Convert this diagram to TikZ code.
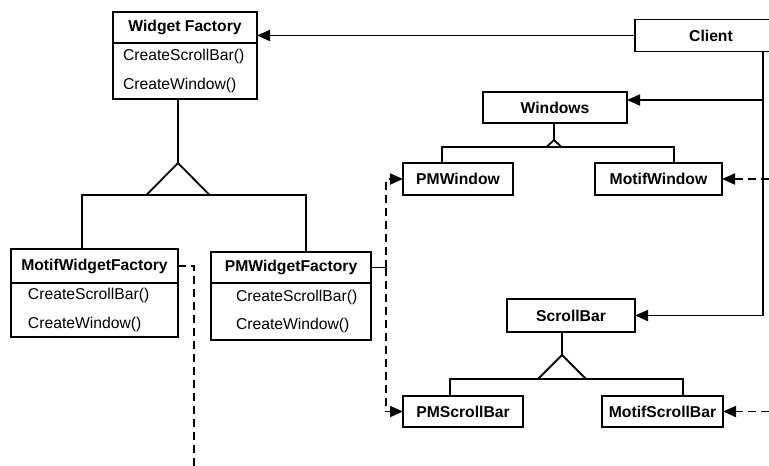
\documentclass[tikz,border=0pt]{standalone}
\usepackage{fontspec}
\setmainfont{Liberation Sans}
\usetikzlibrary{arrows.meta,positioning}

\begin{document}
\begin{tikzpicture}[x=1pt, y=-1pt, line width=1.8pt, >={Triangle[length=13pt,width=11pt]},
    hdr/.style={draw, inner sep=0pt, outer sep=0pt, font=\fontsize{15.7}{19}\selectfont\bfseries},
    ops/.style={draw, anchor=north, align=left, inner xsep=0pt, inner ysep=0pt, outer sep=0pt, font=\fontsize{15.7}{28.5}\selectfont},
    depend/.style={dash pattern=on 8pt off 5pt}]
    	\useasboundingbox (0,0) rectangle (769,466);
    	\clip (0,0) rectangle (769,466);

    	% factories
    	\node[hdr, minimum width=144pt, minimum height=31pt] (wf) at (185,27.5) {Widget Factory};
    	\node[ops, text width=144pt, minimum height=56pt] (wfops) at (wf.south) {\hspace*{10pt}CreateScrollBar()\\\hspace*{10pt}CreateWindow()};
    	\node[hdr, minimum width=167pt, minimum height=34pt] (mwf) at (94.5,266) {MotifWidgetFactory};
    	\node[ops, text width=167pt, minimum height=54pt] (mwfops) at (mwf.south) {\hspace*{17pt}CreateScrollBar()\\\hspace*{17pt}CreateWindow()};
    	\node[hdr, minimum width=160pt, minimum height=31pt] (pwf) at (291,267.5) {PMWidgetFactory};
    	\node[ops, text width=160pt, minimum height=57pt] (pwfops) at (pwf.south) {\hspace*{25pt}CreateScrollBar()\\\hspace*{25pt}CreateWindow()};

    	% products
    	\node[hdr, minimum width=152pt, minimum height=32pt] (client) at (711,35.5) {Client};
    	\node[hdr, minimum width=144pt, minimum height=31pt] (win) at (555,107.5) {Windows};
    	\node[hdr, minimum width=110pt, minimum height=32pt] (pmwin) at (458,179) {PMWindow};
    	\node[hdr, minimum width=127pt, minimum height=32pt] (motifwin) at (658.5,179) {MotifWindow};
    	\node[hdr, minimum width=128pt, minimum height=33pt] (sb) at (571,315.5) {ScrollBar};
    	\node[hdr, minimum width=120pt, minimum height=31pt] (pmsb) at (463,411.5) {PMScrollBar};
    	\node[hdr, minimum width=121pt, minimum height=31pt] (motifsb) at (662.5,411.5) {MotifScrollBar};

    	\coordinate (trunk) at (763,0);
    	\coordinate (winJ) at (763,100);
    	\coordinate (wfTri) at (178,163);
    	\coordinate (wfL) at (82,195);
    	\coordinate (wfR) at (306,195);
    	\coordinate (winTri) at (554,140);
    	\coordinate (winL) at (442,147);
    	\coordinate (winR) at (674,147);
    	\coordinate (sbTri) at (562,355);
    	\coordinate (sbL) at (450,379);
    	\coordinate (sbR) at (683,379);
    	\coordinate (pmJ) at (386,267.5);
    	\coordinate (motifEnd) at (194,466);
    	\coordinate (motifWinSrc) at (769,179);
    	\coordinate (motifSbSrc) at (769,411.5);

    	% client
		\draw [->] (client.west) -- (client.west -| wf.east);
		\draw [->] (client.south -| trunk) |- (sb.east);
		\draw [->] (winJ) -- (winJ -| win.east);

    	% inheritance
		\draw (wfTri |- wfops.south) -- (wfTri);
		\draw (wfTri) -- ++(-31.5,32) -- ++(63,0) -- cycle;
		\draw (wfL |- mwf.north) -- (wfL) -- (wfR) -- (wfR |- pwf.north);

		\draw (winTri |- win.south) -- (winTri);
		\draw (winTri) -- ++(-7.5,7) -- ++(15,0) -- cycle;
		\draw (winL |- pmwin.north) -- (winL) -- (winR) -- (winR |- motifwin.north);

		\draw (sbTri |- sb.south) -- (sbTri);
		\draw (sbTri) -- ++(-24,24) -- ++(48,0) -- cycle;
		\draw (sbL |- pmsb.north) -- (sbL) -- (sbR) -- (sbR |- motifsb.north);

    	% creates
		\draw (pwf.east) -- (pmJ);
		\draw [depend,->] (pmJ) |- (pmwin.west);
		\draw [depend,->] (pmJ) |- (pmsb.west);
		\draw [depend] (mwf.east) -| (motifEnd);
		\draw [depend,->] (motifWinSrc) -- (motifwin.east);
		\draw [depend,->] (motifSbSrc) -- (motifsb.east);
    \end{tikzpicture}
\end{document}
